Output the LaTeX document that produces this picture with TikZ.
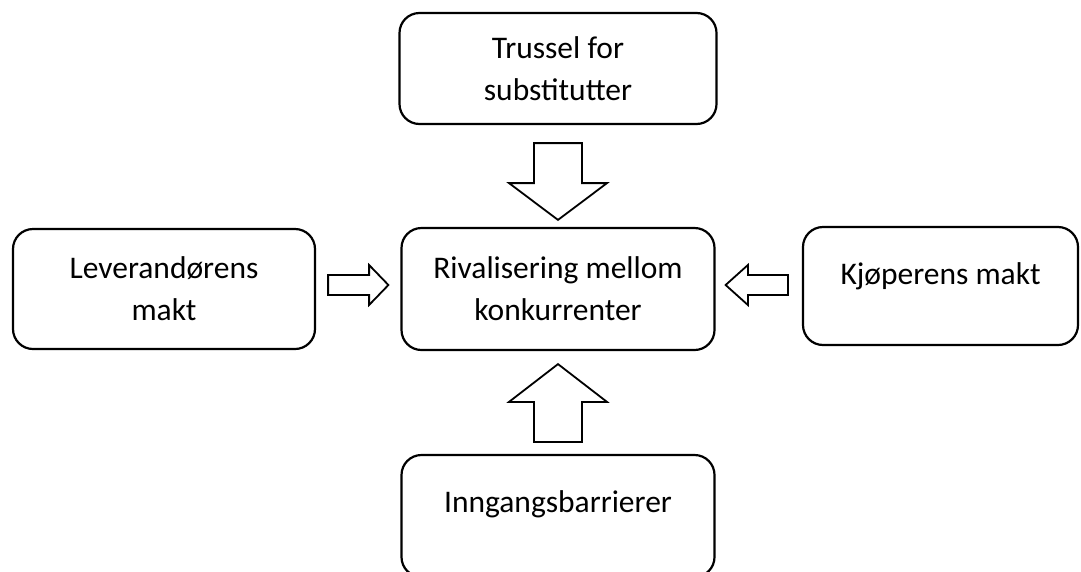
\documentclass[tikz,border=0pt]{standalone}
\usepackage{fontspec}
\setmainfont{Carlito}
\usetikzlibrary{calc}

\begin{document}
\begin{tikzpicture}[x=1pt,y=-1pt,
        force/.style={draw,line width=2.2pt,rounded corners=20pt,align=center,
          font=\fontsize{31.5}{42}\selectfont,inner sep=0pt},
        blockarrow/.style={draw,line width=1.8pt,fill=white,line join=miter}]
        \useasboundingbox (0,0) rectangle (1081,571);
        \clip (0,0) rectangle (1081,571);
        % the five forces
        \node[force,minimum width=317pt,minimum height=111pt] (sub) at (558,68.5) {Trussel for\\substitutter};
        \node[force,minimum width=313pt,minimum height=122pt] (rival) at (558,289) {Rivalisering mellom\\konkurrenter};
        \node[force,minimum width=302pt,minimum height=120pt] (lev) at (164,289) {Leverand\o rens\\makt};
        \node[force,minimum width=275pt,minimum height=118pt,text depth=24pt] (kjop) at (940.5,286) {Kj\o perens makt};
        \node[force,minimum width=313pt,minimum height=122pt,text depth=28pt] (inn) at (558,516) {Inngangsbarrierer};
        % block arrows towards the rivalry
        \draw[blockarrow] ($(sub.south)+(-24,18)$) -- ++(48,0) -- ++(0,40) -- ++(25,0)
            -- ($(rival.north)+(0,-7)$) -- ($(sub.south)+(-49,58)$) -- ++(25,0) -- cycle;
        \draw[blockarrow] ($(inn.north)+(-24,-12)$) -- ++(48,0) -- ++(0,-40) -- ++(25,0)
            -- ($(rival.south)+(0,13)$) -- ($(inn.north)+(-49,-52)$) -- ++(25,0) -- cycle;
        \draw[blockarrow] ($(lev.east)+(12,-14)$) -- ++(41,0) -- ++(0,-10)
            -- ($(rival.west)+(-12,-4)$) -- ($(lev.east)+(53,16)$) -- ++(0,-10) -- ++(-41,0) -- cycle;
        \draw[blockarrow] ($(kjop.west)+(-14,-11)$) -- ++(-40,0) -- ++(0,-10)
            -- ($(rival.east)+(10,-4)$) -- ($(kjop.west)+(-54,19)$) -- ++(0,-10) -- ++(40,0) -- cycle;
    \end{tikzpicture}
\end{document}
